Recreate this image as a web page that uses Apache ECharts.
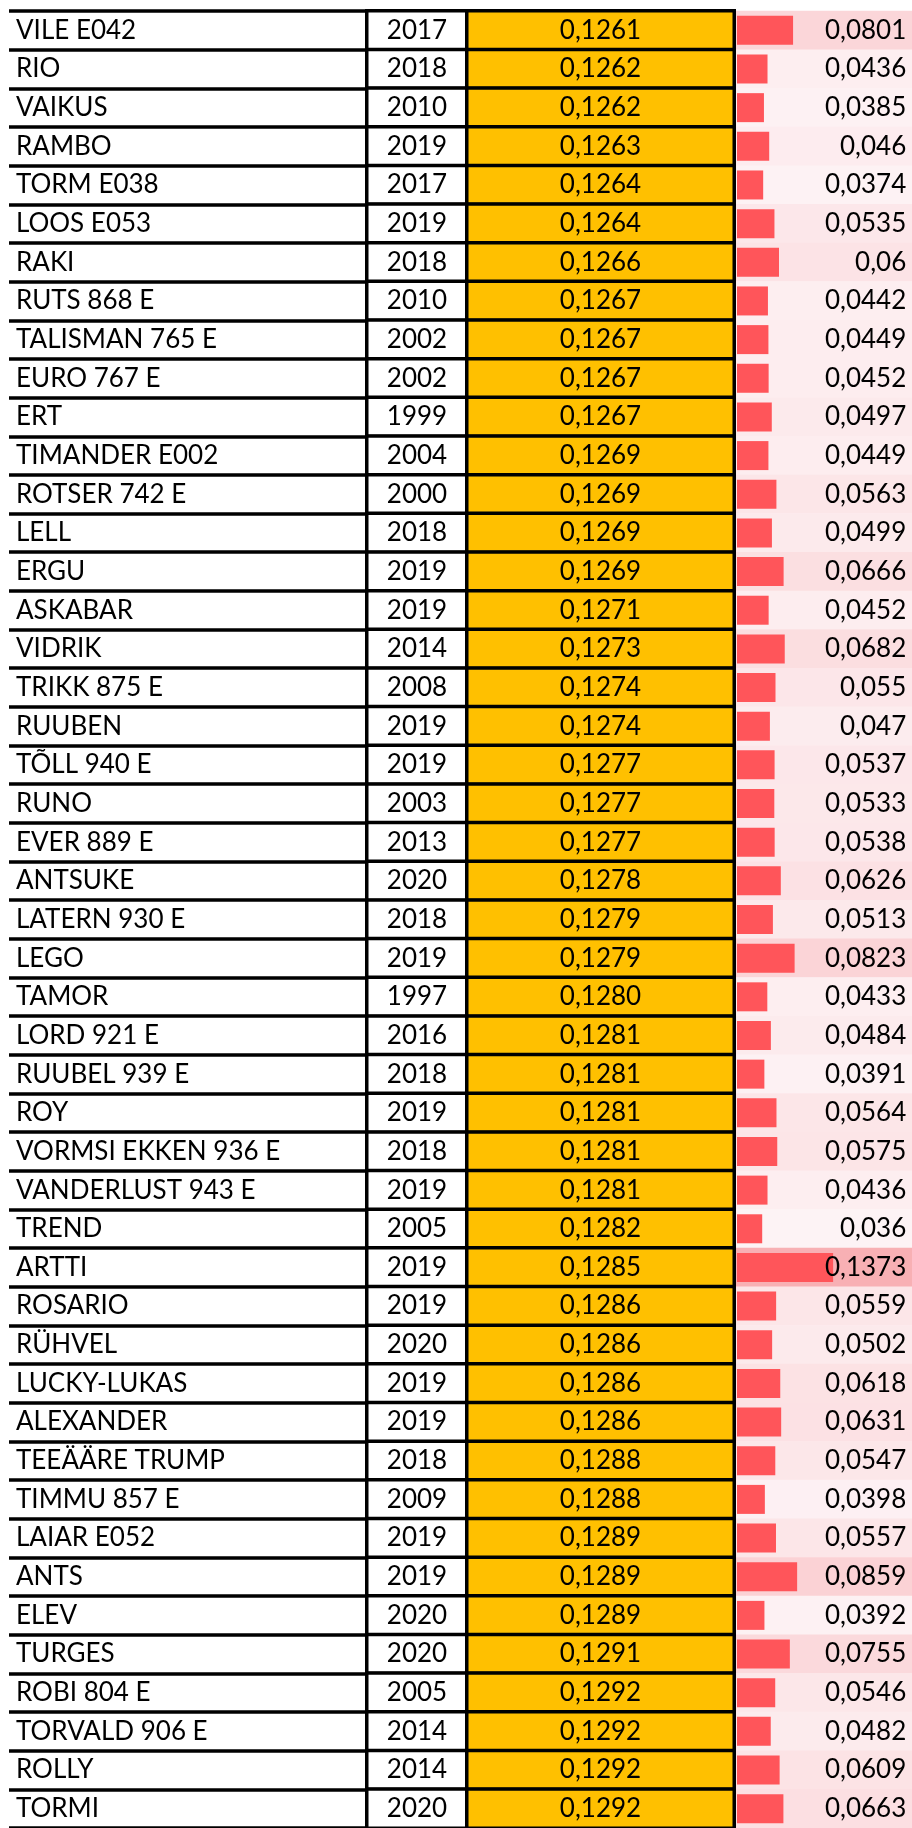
<!DOCTYPE html>
<html>
<head>
<meta charset="utf-8">
<title>Table</title>
<script src="https://cdn.jsdelivr.net/npm/echarts@6/dist/echarts.min.js"></script>
<style>
html, body { margin: 0; padding: 0; background: #fff; }
#main { width: 912px; height: 1828px; }
</style>
</head>
<body>
<div id="main"></div>
<script>
var names = ['VILE E042', 'RIO', 'VAIKUS', 'RAMBO', 'TORM E038', 'LOOS E053', 'RAKI', 'RUTS 868 E',
  'TALISMAN 765 E', 'EURO 767 E', 'ERT', 'TIMANDER E002', 'ROTSER 742 E', 'LELL', 'ERGU', 'ASKABAR',
  'VIDRIK', 'TRIKK 875 E', 'RUUBEN', 'TÕLL 940 E', 'RUNO', 'EVER 889 E', 'ANTSUKE', 'LATERN 930 E',
  'LEGO', 'TAMOR', 'LORD 921 E', 'RUUBEL 939 E', 'ROY', 'VORMSI EKKEN 936 E', 'VANDERLUST 943 E',
  'TREND', 'ARTTI', 'ROSARIO', 'RÜHVEL', 'LUCKY-LUKAS', 'ALEXANDER', 'TEEÄÄRE TRUMP', 'TIMMU 857 E',
  'LAIAR E052', 'ANTS', 'ELEV', 'TURGES', 'ROBI 804 E', 'TORVALD 906 E', 'ROLLY', 'TORMI']
var years = [2017, 2018, 2010, 2019, 2017, 2019, 2018, 2010, 2002, 2002, 1999, 2004, 2000, 2018, 2019,
  2019, 2014, 2008, 2019, 2019, 2003, 2013, 2020, 2018, 2019, 1997, 2016, 2018, 2019, 2018, 2019,
  2005, 2019, 2019, 2020, 2019, 2019, 2018, 2009, 2019, 2019, 2020, 2020, 2005, 2014, 2014, 2020]
var scores = [0.1261, 0.1262, 0.1262, 0.1263, 0.1264, 0.1264, 0.1266, 0.1267, 0.1267, 0.1267, 0.1267,
  0.1269, 0.1269, 0.1269, 0.1269, 0.1271, 0.1273, 0.1274, 0.1274, 0.1277, 0.1277, 0.1277, 0.1278,
  0.1279, 0.1279, 0.1280, 0.1281, 0.1281, 0.1281, 0.1281, 0.1281, 0.1282, 0.1285, 0.1286, 0.1286,
  0.1286, 0.1286, 0.1288, 0.1288, 0.1289, 0.1289, 0.1289, 0.1291, 0.1292, 0.1292, 0.1292, 0.1292]
var ratios = [0.0801, 0.0436, 0.0385, 0.046, 0.0374, 0.0535, 0.06, 0.0442, 0.0449, 0.0452, 0.0497,
  0.0449, 0.0563, 0.0499, 0.0666, 0.0452, 0.0682, 0.055, 0.047, 0.0537, 0.0533, 0.0538, 0.0626,
  0.0513, 0.0823, 0.0433, 0.0484, 0.0391, 0.0564, 0.0575, 0.0436, 0.036, 0.1373, 0.0559, 0.0502,
  0.0618, 0.0631, 0.0547, 0.0398, 0.0557, 0.0859, 0.0392, 0.0755, 0.0546, 0.0482, 0.0609, 0.0663]

var FONT = 'Lato'
var FS = 26
var TOP = 11
var HEIGHT = 1819
var LINE = 3.5

function comma(v) {
  return String(v).replace('.', ',')
}

// one cell per row, x = 0 (single column), value in third dim
function cells(arr) {
  return arr.map(function (v, i) { return [0, i, v] })
}

function grid(left, width) {
  return { left: left, width: width, top: TOP, height: HEIGHT }
}

function colAxis(idx) {
  return { type: 'category', gridIndex: idx, data: ['c'], show: false }
}

function rowAxis(idx) {
  return { type: 'category', gridIndex: idx, data: names, inverse: true, show: false }
}

var textStyle = { fontFamily: FONT, fontSize: FS, color: '#000' }

var myChart = echarts.init(document.getElementById('main'), null, { renderer: 'canvas' })

var option = {
  animation: false,
  backgroundColor: '#fff',
  grid: [
    grid(9, 358),
    grid(367, 100),
    grid(467, 267),
    grid(736, 176),
    grid(737, 175)
  ],
  xAxis: [
    colAxis(0), colAxis(1), colAxis(2), colAxis(3),
    { type: 'value', gridIndex: 4, min: 0, max: 0.25, show: false }
  ],
  yAxis: [
    {
      type: 'category',
      gridIndex: 0,
      data: names,
      inverse: true,
      axisLine: { show: false },
      axisTick: { show: false },
      axisLabel: {
        inside: true,
        interval: 0,
        margin: 7,
        fontFamily: FONT,
        fontSize: FS,
        color: '#000'
      },
      splitLine: { show: true, interval: 0, lineStyle: { color: '#000', width: LINE } }
    },
    rowAxis(1), rowAxis(2), rowAxis(3), rowAxis(4)
  ],
  visualMap: {
    show: false,
    seriesIndex: 2,
    dimension: 2,
    min: 0.036,
    max: 0.1373,
    inRange: { color: ['#FDF3F5', '#F8B0B4'] }
  },
  series: [
    {
      // year column
      type: 'heatmap',
      xAxisIndex: 1,
      yAxisIndex: 1,
      data: cells(years),
      itemStyle: { color: '#fff', borderColor: '#000', borderWidth: LINE },
      label: Object.assign({ show: true, position: 'inside' }, textStyle),
      emphasis: { disabled: true }
    },
    {
      // score column
      type: 'heatmap',
      xAxisIndex: 2,
      yAxisIndex: 2,
      data: cells(scores),
      itemStyle: { color: '#FFC000', borderColor: '#000', borderWidth: LINE },
      label: Object.assign({
        show: true,
        position: 'inside',
        formatter: function (p) { return comma(p.value[2].toFixed(4)) }
      }, textStyle),
      emphasis: { disabled: true }
    },
    {
      // colour scale behind the data bars
      type: 'heatmap',
      xAxisIndex: 3,
      yAxisIndex: 3,
      z: 1,
      data: cells(ratios),
      label: { show: false },
      emphasis: { disabled: true }
    },
    {
      type: 'bar',
      xAxisIndex: 4,
      yAxisIndex: 4,
      z: 2,
      data: ratios,
      barWidth: '75%',
      itemStyle: { color: '#FF555A' },
      emphasis: { disabled: true }
    },
    {
      // value text over bars
      type: 'heatmap',
      xAxisIndex: 3,
      yAxisIndex: 3,
      z: 3,
      data: cells(ratios),
      itemStyle: { color: 'rgba(0,0,0,0)' },
      label: Object.assign({
        show: true,
        position: 'insideRight',
        distance: 6,
        formatter: function (p) { return comma(p.value[2]) }
      }, textStyle),
      emphasis: { disabled: true }
    }
  ]
}

myChart.setOption(option)
</script>
</body>
</html>
